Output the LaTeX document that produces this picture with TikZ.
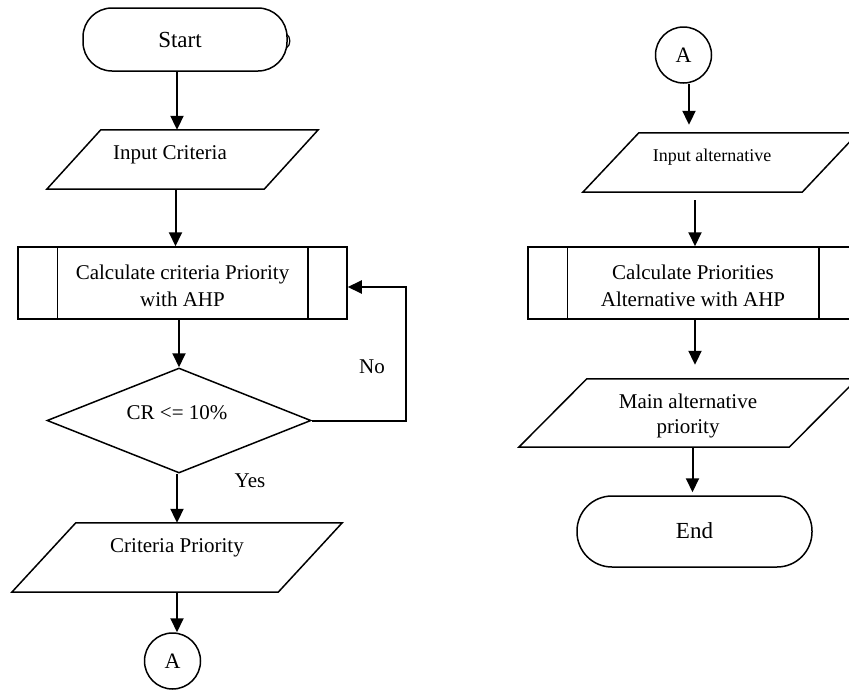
\documentclass[tikz,border=0pt]{standalone}
\usepackage{fontspec}
\setmainfont{Liberation Serif}
\usetikzlibrary{arrows.meta,shapes.geometric,calc}
\begin{document}
\begin{tikzpicture}[x=1pt,y=1pt,
  shp/.style={draw=black,line width=1.5pt},
  ghost/.style={draw=none,inner sep=0pt},
  txt/.style={inner sep=0pt,align=center,font=\fontsize{21}{27}\selectfont},
  smalltxt/.style={inner sep=0pt,align=center,font=\fontsize{18}{23}\selectfont},
  bigtxt/.style={inner sep=0pt,align=center,font=\fontsize{23}{28}\selectfont},
  arr/.style={line width=2pt,-{Triangle[length=14pt,width=13pt]}}]
\useasboundingbox (0,0) rectangle (849,-691);
\fill[white] (0,0) rectangle (849,-691);

% ---------- left column ----------
\node[shp,rectangle,rounded corners=29pt,minimum width=204pt,minimum height=63pt,inner sep=0pt] (start) at (185,-39.5) {};
\node[bigtxt] (startt) at (180,-40) {Start};
\draw[line width=1.2pt] (286.5,-34) .. controls (291,-37) and (291,-45) .. (286.5,-48);

\node[ghost,minimum width=217pt,minimum height=59pt] (ic) at (182.5,-159.5) {};
\draw[shp] ([xshift=27pt]ic.north west) -- ([xshift=27pt]ic.north east) -- ([xshift=-27pt]ic.south east) -- ([xshift=-27pt]ic.south west) -- cycle;
\node[txt] (ict) at (170,-155) {Input Criteria};

\node[shp,rectangle,minimum width=329pt,minimum height=72pt,inner sep=0pt] (calc) at (182.5,-283) {};
\draw[shp] ([xshift=40pt]calc.north west) -- ([xshift=40pt]calc.south west);
\draw[shp] ([xshift=-40pt]calc.north east) -- ([xshift=-40pt]calc.south east);
\node[txt] (calct) at (182.5,-286) {Calculate criteria Priority\\with AHP};

\node[shp,diamond,minimum width=264pt,minimum height=105pt,inner sep=0pt] (dia) at (179,-420.5) {};
\node[txt] (diat) at (177,-413) {CR <= 10\%};

\node[ghost,minimum width=266pt,minimum height=69pt] (cp) at (177,-557.5) {};
\draw[shp] ([xshift=32pt]cp.north west) -- ([xshift=32pt]cp.north east) -- ([xshift=-32pt]cp.south east) -- ([xshift=-32pt]cp.south west) -- cycle;
\node[txt] (cpt) at (177,-548) {Criteria Priority};

\node[shp,circle,minimum size=56pt,inner sep=0pt] (a1) at (172.5,-661) {};
\node[txt,font=\fontsize{22}{26}\selectfont] (a1t) at (172.5,-661) {A};

\node[txt] (no) at (372,-367) {No};
\node[txt] (yes) at (250,-481) {Yes};

\coordinate (loop) at (406,-420.5);

\draw[arr] ([xshift=-8pt]start.south) -- ([xshift=-8pt]start.south |- ic.north);
\draw[arr] ([xshift=-7pt]ic.south) -- ([xshift=-7pt]ic.south |- calc.north);
\draw[arr] (dia.north |- calc.south) -- (dia.north);
\draw[arr] (cp.north |- dia.south) -- (cp.north);
\draw[arr] ([xshift=4.5pt]a1.north |- cp.south) -- ([xshift=4.5pt]a1.north);
\draw[arr] (dia.east) -- (loop) |- ([yshift=-4pt]calc.east);

% ---------- right column ----------
\node[shp,circle,minimum size=56pt,inner sep=0pt] (a2) at (683.5,-55) {};
\node[txt,font=\fontsize{22}{26}\selectfont] (a2t) at (683.5,-55) {A};

\node[ghost,minimum width=219pt,minimum height=59pt] (ia) at (720.5,-162.5) {};
\draw[shp] ([xshift=28pt]ia.north west) -- ([xshift=28pt]ia.north east) -- ([xshift=-28pt]ia.south east) -- ([xshift=-28pt]ia.south west) -- cycle;
\node[smalltxt] (iat) at (712,-157) {Input alternative};

\node[shp,rectangle,minimum width=330pt,minimum height=72pt,inner sep=0pt] (calc2) at (693,-283) {};
\draw[shp] ([xshift=40pt]calc2.north west) -- ([xshift=40pt]calc2.south west);
\draw[shp] ([xshift=-40pt]calc2.north east) -- ([xshift=-40pt]calc2.south east);
\node[txt] (calc2t) at (693,-286) {Calculate Priorities\\Alternative with AHP};

\node[ghost,minimum width=270pt,minimum height=68pt] (ma) at (688,-413) {};
\draw[shp] ([xshift=34pt]ma.north west) -- ([xshift=34pt]ma.north east) -- ([xshift=-34pt]ma.south east) -- ([xshift=-34pt]ma.south west) -- cycle;
\node[txt,font=\fontsize{21}{25}\selectfont] (mat) at (688,-416) {Main alternative\\priority};

\node[shp,rectangle,rounded corners=35pt,minimum width=235pt,minimum height=71pt,inner sep=0pt] (end) at (694.5,-531.5) {};
\node[bigtxt] (endt) at (694.5,-531) {End};

\draw[arr,shorten >=8pt] ([xshift=5.5pt]a2.south) -- ([xshift=5.5pt]a2.south |- ia.north);
\draw[arr,shorten <=8pt] ([xshift=2pt]calc2.north |- ia.south) -- ([xshift=2pt]calc2.north);
\draw[arr,shorten >=14pt] ([xshift=2pt]calc2.south) -- ([xshift=2pt]calc2.south |- ma.north);
\draw[arr,shorten >=3pt] ([xshift=-2pt]end.north |- ma.south) -- ([xshift=-2pt]end.north);
\end{tikzpicture}
\end{document}
